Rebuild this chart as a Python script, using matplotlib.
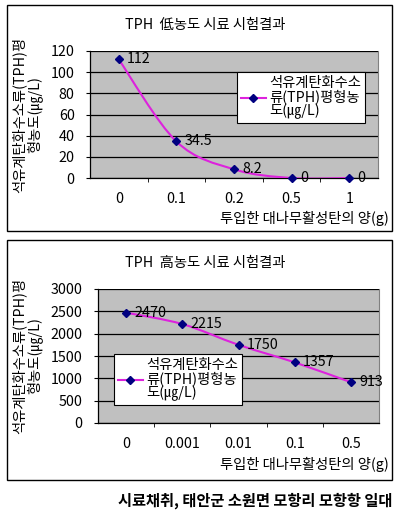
import matplotlib
matplotlib.use("Agg")
import matplotlib.pyplot as plt
from matplotlib.path import Path
from matplotlib.patches import PathPatch, Rectangle
from matplotlib.lines import Line2D

plt.rcParams['font.family'] = ['Noto Sans CJK KR', 'DejaVu Sans']

# data
low_cats = ['0', '0.1', '0.2', '0.5', '1']
low_vals = [112, 34.5, 8.2, 0, 0]
low_labels = ['112', '34.5', '8.2', '0', '0']

high_cats = ['0', '0.001', '0.01', '0.1', '0.5']
high_vals = [2470, 2215, 1750, 1357, 913]
high_labels = ['2470', '2215', '1750', '1357', '913']

low_title = 'TPH  低농도 시료 시험결과'
high_title = 'TPH  高농도 시료 시험결과'
xlabel = '투입한 대나무활성탄의 양(g)'
ylabel = '석유계탄화수소류(TPH)평\n형농도(㎍/L)'
legend_text = '석유계탄화수소\n류(TPH)평형농\n도(㎍/L)'
footer = '시료채취, 태안군 소원면 모항리 모항항 일대'

LINE = '#dd22dd'
MARK = '#000080'
BG = '#c0c0c0'
W, H = 398, 515
FS = 10.3


def smooth_path(xs, ys):
    # Excel-like smoothed line (Catmull-Rom as cubic Bezier)
    pts = list(zip(xs, ys))
    n = len(pts)
    verts = [pts[0]]
    codes = [Path.MOVETO]
    for i in range(n - 1):
        p0 = pts[i - 1] if i > 0 else pts[i]
        p1 = pts[i]
        p2 = pts[i + 1]
        p3 = pts[i + 2] if i + 2 < n else pts[i + 1]
        c1 = (p1[0] + (p2[0] - p0[0]) / 6, p1[1] + (p2[1] - p0[1]) / 6)
        c2 = (p2[0] - (p3[0] - p1[0]) / 6, p2[1] - (p3[1] - p1[1]) / 6)
        verts += [c1, c2, p2]
        codes += [Path.CURVE4] * 3
    return Path(verts, codes)


def px_axes(fig, x0, y0, x1, y1):
    return fig.add_axes([x0 / W, 1 - y1 / H, (x1 - x0) / W, (y1 - y0) / H])


def draw_chart(fig, box, plot, title, title_y, xlabel_y, cats, vals, labels,
               ymax, ystep, leg_xy):
    fig.patches.append(Rectangle((box[0] / W, 1 - box[3] / H),
                                 (box[2] - box[0]) / W, (box[3] - box[1]) / H,
                                 transform=fig.transFigure, fill=False,
                                 edgecolor='black', linewidth=1.0))
    ax = px_axes(fig, *plot)
    ax.set_facecolor(BG)
    xs = list(range(len(cats)))
    ax.set_xlim(-0.5, len(cats) - 0.5)
    ax.set_ylim(0, ymax)
    ax.set_yticks(range(0, ymax + 1, ystep))
    ax.yaxis.grid(True, color='black', linewidth=0.9)
    ax.set_axisbelow(True)
    ax.set_xticks(xs)
    ax.set_xticklabels(cats)
    ax.set_xticks([x + 0.5 for x in xs[:-1]], minor=True)
    ax.tick_params(axis='x', which='major', length=0, pad=10, labelsize=FS)
    ax.tick_params(axis='x', which='minor', length=3, direction='out')
    ax.tick_params(axis='y', length=3, direction='out', pad=8, labelsize=FS)
    ax.spines['top'].set_visible(False)
    ax.spines['right'].set_color('#808080')
    ax.spines['left'].set_linewidth(0.9)
    ax.spines['bottom'].set_linewidth(0.9)

    ax.add_patch(PathPatch(smooth_path(xs, vals), fill=False,
                           edgecolor=LINE, linewidth=1.5, zorder=3))
    ax.plot(xs, vals, linestyle='none', marker='D', markersize=4,
            color=MARK, zorder=4, clip_on=False)
    for x, v, t in zip(xs, vals, labels):
        ax.annotate(t, (x, v), xytext=(6, 0), textcoords='offset points',
                    va='center', ha='left', fontsize=FS, zorder=5,
                    annotation_clip=False)

    ax.set_ylabel(ylabel, fontsize=FS, multialignment='center',
                  linespacing=1.0, labelpad=6)

    fig.text(205 / W, 1 - title_y / H, title, ha='center', va='center',
             fontsize=FS)
    fig.text(389 / W, 1 - xlabel_y / H, xlabel, ha='right', va='center',
             fontsize=FS)

    handle = Line2D([], [], color=LINE, linewidth=1.5, marker='D',
                    markersize=4, markerfacecolor=MARK, markeredgecolor=MARK)
    leg = fig.legend([handle], [legend_text], loc='upper left',
                     bbox_to_anchor=(leg_xy[0] / W, 1 - leg_xy[1] / H),
                     bbox_transform=fig.transFigure, borderaxespad=0,
                     fancybox=False, edgecolor='black', framealpha=1,
                     fontsize=FS, handlelength=1.8, handletextpad=0.2,
                     borderpad=0.25, labelspacing=0.2)
    leg.get_frame().set_linewidth(0.8)
    for t in leg.get_texts():
        t.set_linespacing(0.95)
    return ax


fig = plt.figure(figsize=(W / 100, H / 100), dpi=100)

draw_chart(fig, (7, 5, 392, 231), (90, 51, 378, 178), low_title, 25, 218,
           low_cats, low_vals, low_labels, 120, 20, (237, 72))
draw_chart(fig, (7, 240, 392, 480), (98, 289, 379, 423), high_title, 263, 464,
           high_cats, high_vals, high_labels, 3000, 500, (114, 354))

fig.text(392 / W, 1 - 501 / H, footer, ha='right', va='center',
         fontsize=11, fontweight='bold')

fig.savefig('out.png', dpi=100)
